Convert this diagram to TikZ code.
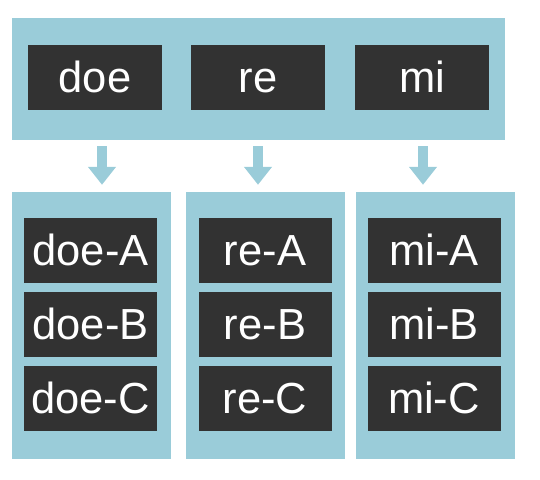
\documentclass[tikz,border=0pt]{standalone}
\usepackage{fontspec}
\setmainfont{Liberation Sans}
\usetikzlibrary{arrows.meta}
\definecolor{lblue}{HTML}{9ACCD9}
\definecolor{dgray}{HTML}{323232}
\begin{document}
\begin{tikzpicture}[x=1pt,y=-1pt,
  panel/.style={fill=lblue,draw=none,inner sep=0pt},
  item/.style={fill=dgray,draw=none,inner sep=0pt,text=white,
    minimum width=133pt,minimum height=65pt,
    font=\fontsize{43.5}{43.5}\selectfont,text height=30.5pt,text depth=0pt},
  arr/.style={draw=lblue,line width=10pt,-{Triangle[length=18pt,width=27pt]},
    shorten <=6pt,shorten >=7pt}]
\useasboundingbox (0,0) rectangle (540,479);
\node[panel,minimum width=493pt,minimum height=122pt] (band) at (258.5,79) {};
\node[item,minimum width=134pt] (doe) at (95,77.5) {doe};
\node[item,minimum width=134pt] (re) at (258,77.5) {re};
\node[item,minimum width=134pt] (mi) at (422,77.5) {mi};
\node[panel,minimum width=159pt,minimum height=267pt] (pL) at (91.5,325.5) {};
\node[panel,minimum width=159pt,minimum height=267pt] (pM) at (265.5,325.5) {};
\node[panel,minimum width=159pt,minimum height=267pt] (pR) at (435.5,325.5) {};
\node[item] (dA) at (90.5,250.5) {doe-A};
\node[item] (dB) at (90.5,324.5) {doe-B};
\node[item] (dC) at (90.5,398.5) {doe-C};
\node[item] (rA) at (265,250.5) {re-A};
\node[item] (rB) at (265,324.5) {re-B};
\node[item] (rC) at (265,398.5) {re-C};
\node[item] (mA) at (434,250.5) {mi-A};
\node[item] (mB) at (434,324.5) {mi-B};
\node[item] (mC) at (434,398.5) {mi-C};
\coordinate (x1) at (102,0);
\coordinate (x2) at (258,0);
\coordinate (x3) at (423,0);
\draw[arr] (band.south -| x1) -- (pL.north -| x1);
\draw[arr] (band.south -| x2) -- (pM.north -| x2);
\draw[arr] (band.south -| x3) -- (pR.north -| x3);
\end{tikzpicture}
\end{document}
